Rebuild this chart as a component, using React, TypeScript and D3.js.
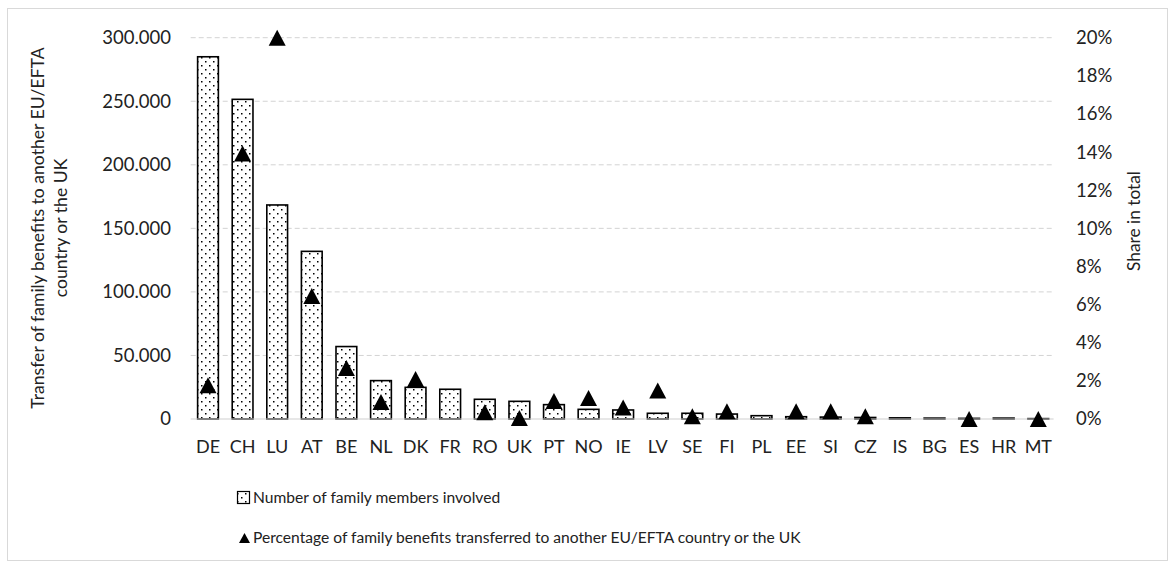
import React from "react";
import * as d3 from "d3";

const categories = ["DE","CH","LU","AT","BE","NL","DK","FR","RO","UK","PT","NO","IE","LV","SE","FI","PL","EE","SI","CZ","IS","BG","ES","HR","MT"];
const members = [285000,251500,168400,131900,57000,30200,24900,23400,15500,13900,11300,7600,7100,4500,4500,3900,2600,1800,1500,1200,900,700,500,700,300];
const shares: (number | null)[] = [1.77,13.93,20.0,6.45,2.67,0.89,2.1,null,0.35,0.05,0.95,1.1,0.6,1.5,0.15,0.4,null,0.4,0.4,0.15,null,null,0,null,0];
const leftTicks = [0,50000,100000,150000,200000,250000,300000];
const rightTicks = [0,2,4,6,8,10,12,14,16,18,20];

const FONT = "Lato, 'Open Sans', sans-serif";
const TXT = "#222";

export default function App() {
  const W = 1175, H = 568;
  const x0 = 190.7, x1 = 1055.6, yTop = 37.7, yBot = 419;
  const x = d3.scaleBand<string>().domain(categories).range([x0, x1]).paddingInner(0.4).paddingOuter(0.2);
  const yL = d3.scaleLinear().domain([0, 300000]).range([yBot, yTop]);
  const yR = d3.scaleLinear().domain([0, 20]).range([yBot, yTop]);
  const fmt = (v: number) => d3.format(",")(v).replace(/,/g, ".");
  const tri = (w: number, h: number) => `M0,${-h / 2}L${w / 2},${h / 2}L${-w / 2},${h / 2}Z`;
  const bw = x.bandwidth();
  return (
    <>
      <style>{`body{margin:0}`}</style>
      <svg width={W} height={H} style={{ display: "block", fontFamily: FONT }}>
        <defs>
          <pattern id="dots" width={8} height={8} patternUnits="userSpaceOnUse">
            <rect width={8} height={8} fill="#fff" />
            <rect x={1} y={1} width={1.5} height={1.5} fill="#000" />
            <rect x={5} y={5} width={1.5} height={1.5} fill="#000" />
          </pattern>
        </defs>
        <rect x={0} y={0} width={W} height={H} fill="#fff" />
        <rect x={7.5} y={8.5} width={1160} height={552} fill="none" stroke="#d9d9d9" strokeWidth={1} />
        {leftTicks.map((t) => (
          <g key={t}>
            {t > 0 && (
              <line x1={x0} x2={x1 - 2} y1={yL(t)} y2={yL(t)} stroke="#d3d3d3" strokeWidth={1} strokeDasharray="5,3" />
            )}
            <text x={171} y={yL(t)} dy="0.35em" textAnchor="end" fontSize={18.5} fill={TXT}>{fmt(t)}</text>
          </g>
        ))}
        {rightTicks.map((t) => (
          <text key={t} x={1076} y={yR(t)} dy="0.35em" textAnchor="start" fontSize={18.5} fill={TXT}>{t}%</text>
        ))}
        {categories.map((c, i) => (
          <rect key={c} x={x(c)} y={yL(members[i])} width={bw} height={yBot - yL(members[i])}
            fill="url(#dots)" stroke="#000" strokeWidth={1.6} />
        ))}
        <line x1={x0} x2={x1 - 2} y1={yBot} y2={yBot} stroke="#d0d0d0" strokeWidth={1.2} />
        {categories.map((c, i) =>
          shares[i] === null ? null : (
            <path key={c} d={tri(17, 16)} transform={`translate(${x(c)! + bw / 2},${yR(shares[i] as number)})`} fill="#000" />
          )
        )}
        {categories.map((c) => (
          <text key={c} x={x(c)! + bw / 2} y={447} dy="0.35em" textAnchor="middle" fontSize={18} fill={TXT}>{c}</text>
        ))}
        <text transform="translate(38,228) rotate(-90)" textAnchor="middle" dy="0.35em" fontSize={17.6} fill={TXT}>Transfer of family benefits to another EU/EFTA</text>
        <text transform="translate(61,228) rotate(-90)" textAnchor="middle" dy="0.35em" fontSize={17.6} fill={TXT}>country or the UK</text>
        <text transform="translate(1134,221) rotate(-90)" textAnchor="middle" dy="0.35em" fontSize={17.3} fill={TXT}>Share in total</text>
        <rect x={237.5} y={491.5} width={12} height={12} fill="url(#dots)" stroke="#000" strokeWidth={1.2} />
        <text x={253} y={498} dy="0.35em" fontSize={15.6} fill={TXT}>Number of family members involved</text>
        <path d={tri(11, 10)} transform="translate(244.5,538)" fill="#000" />
        <text x={253} y={538} dy="0.35em" fontSize={15.6} fill={TXT}>Percentage of family benefits transferred to another EU/EFTA country or the UK</text>
      </svg>
    </>
  );
}
